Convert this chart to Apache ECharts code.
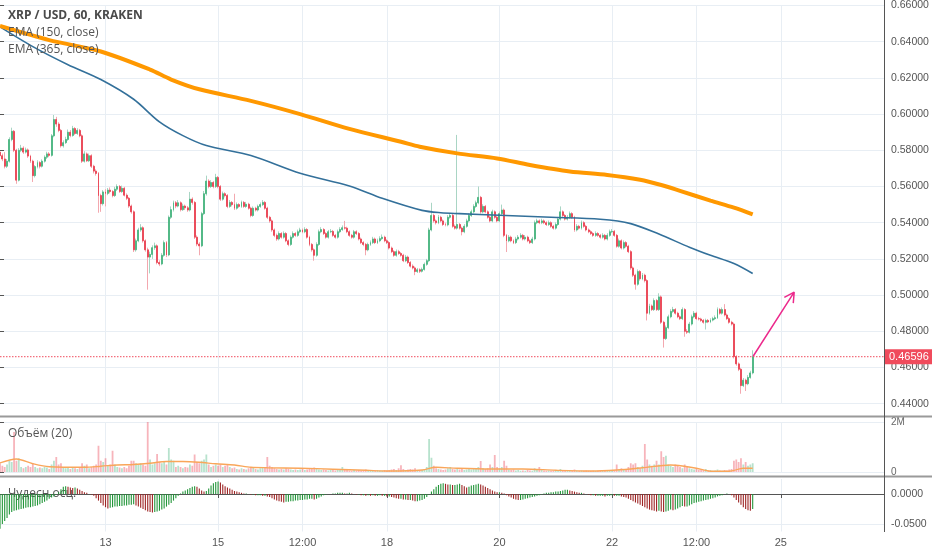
<!DOCTYPE html>
<html><head><meta charset="utf-8">
<script src="https://cdn.jsdelivr.net/npm/echarts@6.0.0/dist/echarts.min.js"></script>
<style>html,body{margin:0;padding:0;background:#fff}#c{width:932px;height:550px}</style>
</head><body><div id="c"></div>
<script>
// ---- hourly candles, XRP / USD, 60, KRAKEN (first candle = day 11, 03:00) ----
const opens=[.5790,.5770,.5752,.5712,.5740,.5860,.5905,.5800,.5635,.5800,
.5812,.5790,.5802,.5768,.5740,.5660,.5710,.5732,.5712,.5740,
.5762,.5780,.5772,.5880,.5970,.5945,.5910,.5825,.5842,.5860,
.5900,.5882,.5920,.5893,.5910,.5880,.5740,.5780,.5742,.5770,
.5712,.5685,.5672,.5550,.5505,.5570,.5562,.5580,.5572,.5550,
.5585,.5600,.5572,.5590,.5552,.5535,.5492,.5460,.5250,.5300,
.5360,.5372,.5300,.5250,.5210,.5225,.5262,.5272,.5180,.5172,
.5220,.5290,.5222,.5430,.5472,.5510,.5492,.5510,.5472,.5492,
.5482,.5470,.5530,.5512,.5320,.5282,.5272,.5450,.5560,.5630,
.5600,.5622,.5600,.5650,.5600,.5530,.5560,.5550,.5490,.5512,
.5500,.5480,.5500,.5490,.5512,.5490,.5502,.5480,.5440,.5480,
.5470,.5490,.5500,.5512,.5480,.5430,.5410,.5360,.5330,.5310,
.5340,.5320,.5340,.5300,.5280,.5320,.5340,.5330,.5350,.5360,
.5350,.5362,.5320,.5280,.5250,.5220,.5280,.5350,.5362,.5340,
.5320,.5350,.5352,.5330,.5320,.5350,.5362,.5372,.5370,.5350,
.5330,.5320,.5350,.5340,.5310,.5290,.5280,.5250,.5280,.5290,
.5310,.5290,.5300,.5312,.5320,.5300,.5290,.5260,.5240,.5220,
.5240,.5230,.5220,.5190,.5210,.5180,.5160,.5150,.5130,.5140,
.5132,.5142,.5170,.5190,.5360,.5440,.5410,.5400,.5430,.5410,
.5390,.5388,.5430,.5440,.5380,.5370,.5390,.5370,.5350,.5380,
.5410,.5440,.5460,.5490,.5510,.5540,.5460,.5490,.5460,.5430,
.5410,.5460,.5430,.5410,.5450,.5470,.5330,.5300,.5320,.5300,
.5290,.5310,.5320,.5330,.5310,.5320,.5300,.5290,.5310,.5400,
.5410,.5400,.5410,.5400,.5390,.5400,.5380,.5370,.5390,.5420,
.5460,.5440,.5420,.5430,.5450,.5430,.5360,.5380,.5370,.5400,
.5380,.5360,.5350,.5340,.5330,.5340,.5330,.5320,.5330,.5310,
.5330,.5350,.5352,.5330,.5270,.5300,.5260,.5290,.5270,.5240,
.5150,.5110,.5060,.5130,.5090,.5110,.5080,.4900,.4940,.4920,
.4970,.4920,.4990,.4850,.4760,.4820,.4880,.4910,.4920,.4900,
.4880,.4870,.4920,.4800,.4795,.4840,.4880,.4900,.4870,.4868,
.4860,.4850,.4860,.4852,.4862,.4870,.4875,.4920,.4900,.4920,
.4890,.4870,.4850,.4840,.4660,.4620,.4590,.4500,.4530,.4510,
.4545,.4570];
const closes=[.5770,.5752,.5712,.5740,.5860,.5905,.5800,.5635,.5800,.5812,
.5790,.5802,.5768,.5740,.5660,.5710,.5732,.5712,.5740,.5762,
.5780,.5772,.5880,.5970,.5945,.5910,.5825,.5842,.5860,.5900,
.5882,.5920,.5893,.5910,.5880,.5740,.5780,.5742,.5770,.5712,
.5685,.5672,.5550,.5505,.5570,.5562,.5580,.5572,.5550,.5585,
.5600,.5572,.5590,.5552,.5535,.5492,.5460,.5250,.5300,.5360,
.5372,.5300,.5250,.5210,.5225,.5262,.5272,.5180,.5172,.5220,
.5290,.5222,.5430,.5472,.5510,.5492,.5510,.5472,.5492,.5482,
.5470,.5530,.5512,.5320,.5282,.5272,.5450,.5560,.5630,.5600,
.5622,.5600,.5650,.5600,.5530,.5560,.5550,.5490,.5512,.5500,
.5480,.5500,.5490,.5512,.5490,.5502,.5480,.5440,.5480,.5470,
.5490,.5500,.5512,.5480,.5430,.5410,.5360,.5330,.5310,.5340,
.5320,.5340,.5300,.5280,.5320,.5340,.5330,.5350,.5360,.5350,
.5362,.5320,.5280,.5250,.5220,.5280,.5350,.5362,.5340,.5320,
.5350,.5352,.5330,.5320,.5350,.5362,.5372,.5370,.5350,.5330,
.5320,.5350,.5340,.5310,.5290,.5280,.5250,.5280,.5290,.5310,
.5290,.5300,.5312,.5320,.5300,.5290,.5260,.5240,.5220,.5240,
.5230,.5220,.5190,.5210,.5180,.5160,.5150,.5130,.5140,.5132,
.5142,.5170,.5190,.5360,.5440,.5410,.5400,.5430,.5410,.5390,
.5388,.5430,.5440,.5380,.5370,.5390,.5370,.5350,.5380,.5410,
.5440,.5460,.5490,.5510,.5540,.5460,.5490,.5460,.5430,.5410,
.5460,.5430,.5410,.5450,.5470,.5330,.5300,.5320,.5300,.5290,
.5310,.5320,.5330,.5310,.5320,.5300,.5290,.5310,.5400,.5410,
.5400,.5410,.5400,.5390,.5400,.5380,.5370,.5390,.5420,.5460,
.5440,.5420,.5430,.5450,.5430,.5360,.5380,.5370,.5400,.5380,
.5360,.5350,.5340,.5330,.5340,.5330,.5320,.5330,.5310,.5330,
.5350,.5352,.5330,.5270,.5300,.5260,.5290,.5270,.5240,.5150,
.5110,.5060,.5130,.5090,.5110,.5080,.4900,.4940,.4920,.4970,
.4920,.4990,.4850,.4760,.4820,.4880,.4910,.4920,.4900,.4880,
.4870,.4920,.4800,.4795,.4840,.4880,.4900,.4870,.4868,.4860,
.4850,.4860,.4852,.4862,.4870,.4875,.4920,.4900,.4920,.4890,
.4870,.4850,.4840,.4660,.4620,.4590,.4500,.4530,.4510,.4545,
.4570,.46596];
const lows=[.5755,.5740,.5700,.5702,.5732,.5850,.5790,.5615,.5628,.5790,
.5780,.5782,.5758,.5730,.5625,.5650,.5700,.5700,.5705,.5732,
.5752,.5762,.5765,.5872,.5930,.5900,.5815,.5815,.5835,.5852,
.5872,.5875,.5885,.5885,.5872,.5730,.5732,.5735,.5735,.5702,
.5672,.5660,.5455,.5460,.5495,.5490,.5552,.5562,.5540,.5542,
.5575,.5565,.5565,.5545,.5525,.5482,.5450,.5238,.5240,.5292,
.5350,.5290,.5240,.5030,.5120,.5200,.5250,.5170,.5160,.5165,
.5212,.5210,.5215,.5420,.5462,.5480,.5485,.5462,.5465,.5470,
.5460,.5462,.5500,.5310,.5270,.5220,.5265,.5442,.5550,.5590,
.5592,.5590,.5592,.5590,.5520,.5522,.5540,.5480,.5482,.5490,
.5470,.5472,.5482,.5482,.5482,.5482,.5472,.5430,.5432,.5462,
.5462,.5482,.5492,.5472,.5420,.5400,.5350,.5320,.5300,.5302,
.5312,.5312,.5292,.5270,.5272,.5312,.5322,.5322,.5342,.5342,
.5342,.5312,.5270,.5240,.5190,.5212,.5272,.5342,.5332,.5312,
.5312,.5342,.5322,.5312,.5312,.5342,.5355,.5362,.5342,.5322,
.5312,.5312,.5332,.5302,.5282,.5270,.5220,.5242,.5272,.5282,
.5282,.5282,.5292,.5305,.5292,.5282,.5252,.5232,.5212,.5212,
.5222,.5212,.5182,.5182,.5172,.5152,.5142,.5110,.5122,.5122,
.5125,.5135,.5162,.5182,.5352,.5400,.5390,.5392,.5402,.5382,
.5380,.5380,.5422,.5372,.5362,.5362,.5362,.5330,.5342,.5372,
.5402,.5432,.5452,.5482,.5502,.5450,.5452,.5452,.5422,.5402,
.5402,.5422,.5402,.5402,.5442,.5320,.5238,.5292,.5292,.5282,
.5282,.5302,.5312,.5302,.5302,.5292,.5282,.5282,.5302,.5392,
.5392,.5392,.5392,.5382,.5382,.5372,.5362,.5362,.5382,.5412,
.5432,.5412,.5412,.5422,.5422,.5350,.5352,.5362,.5362,.5372,
.5352,.5342,.5332,.5322,.5322,.5322,.5312,.5312,.5302,.5302,
.5322,.5342,.5322,.5262,.5262,.5252,.5252,.5262,.5232,.5140,
.5100,.5030,.5052,.5080,.5082,.5070,.4860,.4892,.4912,.4912,
.4912,.4912,.4840,.4710,.4752,.4812,.4872,.4902,.4892,.4872,
.4862,.4862,.4770,.4785,.4788,.4832,.4872,.4862,.4860,.4852,
.4842,.4810,.4845,.4845,.4855,.4862,.4868,.4892,.4892,.4882,
.4862,.4842,.4832,.4650,.4610,.4580,.4455,.4492,.4470,.4502,
.4538,.4562];
const highs=[.5805,.5782,.5790,.5752,.5872,.5925,.5912,.5808,.5812,.5830,
.5822,.5815,.5810,.5775,.5748,.5718,.5745,.5740,.5750,.5772,
.5792,.5790,.5890,.5995,.5985,.5955,.5918,.5855,.5875,.5915,
.5912,.5935,.5928,.5922,.5918,.5888,.5795,.5788,.5782,.5778,
.5720,.5695,.5680,.5560,.5580,.5585,.5592,.5595,.5580,.5598,
.5612,.5608,.5605,.5598,.5562,.5542,.5500,.5468,.5312,.5372,
.5392,.5380,.5308,.5262,.5240,.5275,.5290,.5280,.5192,.5232,
.5302,.5298,.5440,.5490,.5522,.5520,.5525,.5518,.5505,.5500,
.5492,.5570,.5540,.5520,.5330,.5292,.5460,.5575,.5660,.5640,
.5635,.5630,.5670,.5658,.5608,.5572,.5568,.5558,.5525,.5520,
.5560,.5512,.5508,.5522,.5520,.5515,.5510,.5488,.5490,.5488,
.5500,.5512,.5525,.5520,.5488,.5438,.5418,.5368,.5340,.5352,
.5348,.5352,.5348,.5308,.5330,.5352,.5348,.5362,.5372,.5368,
.5375,.5370,.5328,.5288,.5258,.5292,.5362,.5375,.5370,.5348,
.5360,.5365,.5360,.5338,.5362,.5375,.5385,.5410,.5378,.5358,
.5338,.5360,.5358,.5348,.5318,.5298,.5288,.5290,.5302,.5322,
.5318,.5312,.5325,.5335,.5328,.5308,.5298,.5268,.5248,.5252,
.5250,.5238,.5228,.5222,.5218,.5188,.5170,.5158,.5150,.5148,
.5152,.5180,.5200,.5372,.5510,.5450,.5418,.5442,.5438,.5418,
.5400,.5442,.5452,.5448,.5390,.5885,.5398,.5378,.5392,.5422,
.5452,.5472,.5502,.5522,.5600,.5548,.5502,.5498,.5468,.5438,
.5472,.5468,.5438,.5462,.5500,.5478,.5338,.5332,.5328,.5308,
.5322,.5332,.5342,.5338,.5332,.5328,.5308,.5322,.5412,.5422,
.5418,.5422,.5418,.5408,.5412,.5408,.5388,.5402,.5432,.5490,
.5468,.5448,.5442,.5462,.5458,.5438,.5392,.5388,.5412,.5408,
.5388,.5368,.5358,.5348,.5352,.5348,.5338,.5342,.5338,.5342,
.5362,.5365,.5360,.5338,.5312,.5308,.5302,.5298,.5278,.5248,
.5158,.5118,.5142,.5138,.5122,.5118,.5088,.4952,.4948,.4982,
.4978,.5010,.4998,.4858,.4832,.4892,.4922,.4935,.4928,.4908,
.4888,.4932,.4928,.4812,.4852,.4892,.4912,.4908,.4880,.4875,
.4868,.4870,.4868,.4872,.4880,.4888,.4932,.4928,.4932,.4950,
.4898,.4878,.4858,.4848,.4668,.4628,.4598,.4542,.4538,.4558,
.4582,.4695];
// volume, in millions
const volumes=[.35,.25,.2,.3,.45,.4,1.6,.45,.55,.2,
.15,.2,.25,.2,.35,.2,.15,.18,.15,.2,
.18,.12,.3,.45,.6,.3,.35,.2,.15,.2,
.12,.18,.15,.12,.2,.35,.25,.3,.15,.2,
.25,.3,1.05,.45,.4,.55,.25,.3,.85,.3,
.2,.18,.15,.2,.15,.25,.45,.45,.35,.3,
.35,.3,.25,2.0,.5,.3,.35,.72,.4,.35,
.4,.3,.96,.5,.45,.2,.25,.2,.15,.2,
.18,.3,.25,.7,.4,.35,.45,.5,.7,.3,
.2,.25,.3,.25,.3,.2,.25,.28,.2,.15,
.18,.12,.1,.15,.12,.1,.15,.2,.18,.12,
.1,.15,.18,.2,.6,.25,.2,.15,.12,.1,
.12,.1,.15,.12,.1,.08,.1,.08,.1,.12,
.08,.1,.12,.15,.18,.12,.1,.08,.1,.08,
.06,.08,.1,.06,.08,.12,.2,.1,.08,.06,
.05,.08,.06,.08,.05,.06,.1,.08,.05,.06,
.05,.08,.06,.05,.08,.06,.08,.1,.12,.08,
.15,.27,.12,.08,.1,.12,.1,.15,.08,.06,
.08,.12,.2,1.32,.57,.25,.15,.12,.1,.08,
.1,.15,.2,.12,.1,.15,.1,.12,.08,.1,
.12,.1,.12,.15,.2,.44,.15,.12,.15,.3,
.2,.68,.2,.15,.2,.45,.25,.1,.08,.1,
.06,.08,.05,.06,.05,.08,.06,.05,.15,.1,
.2,.08,.06,.05,.06,.05,.06,.05,.08,.12,
.08,.06,.05,.06,.05,.1,.06,.05,.06,.05,
.06,.05,.04,.05,.04,.05,.06,.04,.05,.06,
.05,.04,.06,.3,.1,.15,.1,.12,.2,.35,
.3,.35,.2,.15,.25,1.12,.5,.3,.25,.3,
.45,.3,.83,.6,.65,.3,.25,.2,.3,.25,
.2,.15,.3,.2,.15,.12,.1,.12,.08,.1,
.08,.12,.06,.08,.05,.06,.1,.06,.05,.08,
.06,.1,.12,.45,.5,.4,.55,.3,.4,.25,
.3,.35];
// Awesome oscillator ("Чудесн.осц.") values per candle
const aoValues=[-0.058,-0.050,-0.045,-0.040,-0.034,-0.030,-0.028,-0.027,-0.026,-0.025,
-0.024,-0.023,-0.022,-0.022,-0.021,-0.020,-0.019,-0.017,-0.015,-0.013,
-0.011,-0.008,-0.006,-0.004,-0.001,0.003,0.008,0.012,0.013,0.012,
0.011,0.010,0.011,0.009,0.007,0.005,0.003,0.002,0.000,-0.001,
-0.003,-0.007,-0.011,-0.015,-0.019,-0.022,-0.024,-0.023,-0.022,-0.021,
-0.021,-0.020,-0.020,-0.019,-0.019,-0.018,-0.018,-0.017,-0.019,-0.021,
-0.023,-0.025,-0.027,-0.029,-0.030,-0.031,-0.030,-0.029,-0.028,-0.026,
-0.024,-0.021,-0.018,-0.015,-0.011,-0.007,-0.003,0.001,0.004,0.006,
0.008,0.010,0.012,0.013,0.012,0.009,0.006,0.004,0.005,0.009,
0.014,0.018,0.020,0.021,0.019,0.016,0.013,0.011,0.009,0.007,
0.005,0.004,0.003,0.002,0.001,0.001,0.000,-0.001,-0.001,-0.002,
-0.002,-0.002,-0.003,-0.003,-0.004,-0.005,-0.007,-0.009,-0.011,-0.012,
-0.013,-0.014,-0.013,-0.013,-0.012,-0.012,-0.011,-0.011,-0.010,-0.010,
-0.009,-0.009,-0.008,-0.008,-0.009,-0.008,-0.006,-0.004,-0.002,-0.001,
0.000,0.000,0.001,0.001,0.002,0.002,0.002,0.001,0.001,0.002,
0.001,0.000,-0.001,-0.001,-0.002,-0.002,-0.003,-0.002,-0.003,-0.002,
-0.003,-0.003,-0.002,-0.003,-0.003,-0.004,-0.004,-0.005,-0.006,-0.007,
-0.008,-0.008,-0.009,-0.009,-0.010,-0.010,-0.011,-0.012,-0.012,-0.011,
-0.010,-0.008,-0.005,-0.001,0.004,0.008,0.012,0.015,0.017,0.018,
0.017,0.016,0.016,0.015,0.015,0.016,0.017,0.015,0.013,0.011,
0.012,0.014,0.015,0.016,0.017,0.016,0.014,0.012,0.010,0.008,
0.006,0.004,0.003,0.003,0.002,0.001,-0.002,-0.004,-0.006,-0.008,
-0.009,-0.010,-0.010,-0.009,-0.008,-0.007,-0.006,-0.005,-0.004,-0.003,
-0.002,-0.001,0.001,0.002,0.002,0.003,0.003,0.004,0.004,0.005,
0.006,0.007,0.007,0.006,0.005,0.004,0.003,0.002,0.002,0.001,
0.000,-0.001,-0.002,-0.002,-0.003,-0.003,-0.003,-0.003,-0.004,-0.003,
-0.003,-0.002,-0.003,-0.003,-0.003,-0.004,-0.005,-0.006,-0.008,-0.010,
-0.012,-0.014,-0.016,-0.018,-0.020,-0.022,-0.024,-0.026,-0.027,-0.028,
-0.029,-0.028,-0.029,-0.030,-0.029,-0.028,-0.026,-0.027,-0.026,-0.024,
-0.022,-0.020,-0.021,-0.021,-0.019,-0.017,-0.015,-0.014,-0.013,-0.012,
-0.011,-0.010,-0.009,-0.008,-0.007,-0.006,-0.004,-0.003,-0.002,0.000,
0.001,0.000,-0.002,-0.006,-0.010,-0.014,-0.018,-0.022,-0.025,-0.027,
-0.028,-0.025];
// indicator lines: [candle index, value]
const ema150=[[0,.6482],[14,.6373],[29,.6273],[43,.6191],[57,.6082],[68,.5957],[78,.5881],[88,.5826],[107,.5771],[128,.5673],[149,.5603],[163,.5535],[180,.5468],[188,.5455],[196,.5450],[213,.5441],[235,.5430],[256,.5419],[269,.5395],[281,.5337],[294,.5265],[303,.5220],[313,.5174],[321,.5119]];
const ema365=[[0,.6487],[21,.6409],[43,.6346],[64,.6246],[73,.6191],[85,.6137],[107,.6073],[128,.6000],[149,.5918],[171,.5847],[179,.5820],[195,.5783],[212,.5755],[226,.5719],[243,.5683],[259,.5664],[273,.5637],[282,.5608],[290,.5576],[303,.5522],[313,.5483],[321,.5446]];
const volumeMA=[[0,.36],[7,.52],[14,.33],[21,.21],[36,.19],[43,.23],[50,.28],[57,.30],[64,.35],[71,.42],[78,.42],[85,.39],[92,.33],[100,.28],[107,.19],[114,.17],[128,.15],[142,.11],[156,.07],[166,.04],[180,.08],[186,.19],[195,.15],[209,.12],[223,.12],[237,.07],[252,.04],[263,.08],[274,.17],[286,.28],[291,.24],[297,.15],[303,.03],[311,.03],[317,.15],[321,.15]];
// drawn arrow annotation: [candle index, price]
const arrowPts=[[321.2,.4662],[338.7,.5016],[334.5,.4987],[338.7,.5016],[338.3,.4956]];
// x axis ticks
const tickCats=['13 00:00','15 00:00','16 12:00','18 00:00','20 00:00','22 00:00','23 12:00','25 00:00'];
const tickLabels=['13','15','12:00','18','20','22','12:00','25'];
const N_CATS=378, startDay=11, startHour=3;

const categories=[];
for(let k=0;k<N_CATS;k++){const t=startHour+k;const d=startDay+Math.floor(t/24);const h=t%24;categories.push(d+' '+String(h).padStart(2,'0')+':00');}

const UP='#53b987', DOWN='#eb4d5c', UPW='#a9d5c4', DOWNW='#f3a8af', PRICE='#f04b5c';
const lastClose=closes[closes.length-1];
const candleData=opens.map((o,i)=>[o,closes[i],lows[i],highs[i]]);
const bodyData=opens.map((o,i)=>[o,closes[i],Math.min(o,closes[i]),Math.max(o,closes[i])]);
const volData=volumes.map((v,i)=>({value:v,itemStyle:{color:closes[i]>=opens[i]?'rgba(83,185,135,0.42)':'rgba(235,77,92,0.42)'}}));
const aoData=aoValues.map((v,i)=>({value:v,itemStyle:{color:(i===0||v>=aoValues[i-1])?'#23963a':'#9e2626'}}));

const AXF='"Liberation Sans", Arial, sans-serif';
const TXF='"Open Sans", "Noto Sans", sans-serif';
const isTick=(idx,val)=>tickCats.indexOf(val)>=0;
function catAxis(g,show){
  return {type:'category',gridIndex:g,data:categories,boundaryGap:false,
    axisLine:{show:show,lineStyle:{color:'#555',width:1}},
    axisTick:{show:show,interval:isTick,length:4,lineStyle:{color:'#555'}},
    axisLabel:{show:show,interval:isTick,formatter:v=>{const k=tickCats.indexOf(v);return k>=0?tickLabels[k]:'';},color:'#555',fontSize:11,margin:6,fontFamily:AXF},
    splitLine:{show:true,interval:isTick,lineStyle:{color:'#e8eef4',width:1}}};
}
const GL='#e8eef4';
const chart=echarts.init(document.getElementById('c'));
chart.setOption({
  animation:false,
  backgroundColor:'#ffffff',
  grid:[
    {left:0,right:48,top:0,height:403.7},
    {left:0,right:48,top:422,height:50},
    {left:0,right:48,top:479,height:52.5}
  ],
  xAxis:[catAxis(0,false),catAxis(1,false),catAxis(2,true),
    {type:'value',gridIndex:0,min:0,max:N_CATS-1,show:false},
    {type:'value',gridIndex:1,min:0,max:N_CATS-1,show:false}],
  yAxis:[
    {type:'value',gridIndex:0,position:'right',min:0.44,max:0.66,interval:0.02,
     axisLine:{show:false},axisTick:{show:true,length:4,lineStyle:{color:'#555'}},
     axisLabel:{color:'#555',fontSize:10.5,margin:7,fontFamily:AXF,formatter:v=>v.toFixed(5)},
     splitLine:{show:true,lineStyle:{color:GL}}},
    {type:'value',gridIndex:1,position:'right',min:0,max:2,interval:2,
     axisLine:{show:false},axisTick:{show:true,length:4,lineStyle:{color:'#555'}},
     axisLabel:{color:'#666',fontSize:10,margin:7,fontFamily:AXF,formatter:v=>v===0?'0':v+'M'},
     splitLine:{show:true,lineStyle:{color:GL}}},
    {type:'value',gridIndex:2,position:'right',min:-0.0625,max:0.025,interval:0.0125,
     axisLine:{show:false},axisTick:{show:false},
     axisLabel:{color:'#555',fontSize:10.5,margin:7,fontFamily:AXF,
       formatter:v=>Math.abs(v)<1e-9?'0.0000':(Math.abs(v+0.05)<1e-9?'-0.0500':'')},
     splitLine:{show:true,lineStyle:{color:['transparent',GL,'transparent','transparent','transparent',GL,'transparent','transparent']}}}
  ],
  series:[
    {name:'wicks',type:'candlestick',xAxisIndex:0,yAxisIndex:0,data:candleData,barWidth:1,silent:true,z:2,
     itemStyle:{color:UPW,color0:DOWNW,borderColor:UPW,borderColor0:DOWNW,borderWidth:1}},
    {name:'XRP / USD',type:'candlestick',xAxisIndex:0,yAxisIndex:0,data:bodyData,barWidth:1.4,z:3,
     itemStyle:{color:UP,color0:DOWN,borderColor:UP,borderColor0:DOWN,borderWidth:1}},
    {name:'EMA (150, close)',type:'line',xAxisIndex:3,yAxisIndex:0,data:ema150,showSymbol:false,smooth:0.3,silent:true,z:4,
     lineStyle:{color:'#33709a',width:1.6}},
    {name:'EMA (365, close)',type:'line',xAxisIndex:3,yAxisIndex:0,data:ema365,showSymbol:false,smooth:0.3,silent:true,z:4,
     lineStyle:{color:'#ff9800',width:4}},
    {name:'last price',type:'line',xAxisIndex:3,yAxisIndex:0,data:[[0,lastClose],[N_CATS-1,lastClose]],showSymbol:false,silent:true,z:5,
     lineStyle:{color:PRICE,width:1,type:[1.5,1.5]},
     endLabel:{show:true,distance:1,formatter:()=>lastClose.toFixed(5),color:'#fff',backgroundColor:PRICE,
       padding:[2,4,2,4],fontSize:11,fontFamily:AXF}},
    {name:'arrow',type:'line',xAxisIndex:3,yAxisIndex:0,data:arrowPts,showSymbol:false,silent:true,z:6,
     lineStyle:{color:'#ec2a8c',width:1.5}},
    {name:'Объём',type:'bar',xAxisIndex:1,yAxisIndex:1,data:volData,barWidth:1.8,silent:true},
    {name:'Объём MA',type:'line',xAxisIndex:4,yAxisIndex:1,data:volumeMA,showSymbol:false,smooth:0.3,silent:true,
     lineStyle:{color:'#f9a65a',width:1.3}},
    {name:'Чудесн.осц.',type:'bar',xAxisIndex:2,yAxisIndex:2,data:aoData,barWidth:1.1,silent:true,z:2}
  ],
  graphic:[
    {type:'line',shape:{x1:0,y1:416.5,x2:932,y2:416.5},style:{stroke:'#9a9a9a',lineWidth:2},z:20},
    {type:'line',shape:{x1:0,y1:476.5,x2:932,y2:476.5},style:{stroke:'#9a9a9a',lineWidth:2},z:20},
    {type:'line',shape:{x1:884.5,y1:0,x2:884.5,y2:532},style:{stroke:'#555',lineWidth:1},z:20},
    {type:'text',x:8,y:16,z:30,style:{text:'XRP / USD, 60, KRAKEN',font:'bold 12px '+TXF,fill:'#4a4a4a',verticalAlign:'middle'}},
    {type:'text',x:8,y:33,z:30,style:{text:'EMA (150, close)',font:'12px '+TXF,fill:'#555',verticalAlign:'middle'}},
    {type:'text',x:8,y:50,z:30,style:{text:'EMA (365, close)',font:'12px '+TXF,fill:'#555',verticalAlign:'middle'}},
    {type:'text',x:8,y:434,z:30,style:{text:'Объём (20)',font:'12px '+TXF,fill:'#555',verticalAlign:'middle'}},
    {type:'text',x:8,y:494,z:0,style:{text:'Чудесн.осц.',font:'12px '+TXF,fill:'#555',verticalAlign:'middle'}}
  ]
});
</script>
</body></html>
